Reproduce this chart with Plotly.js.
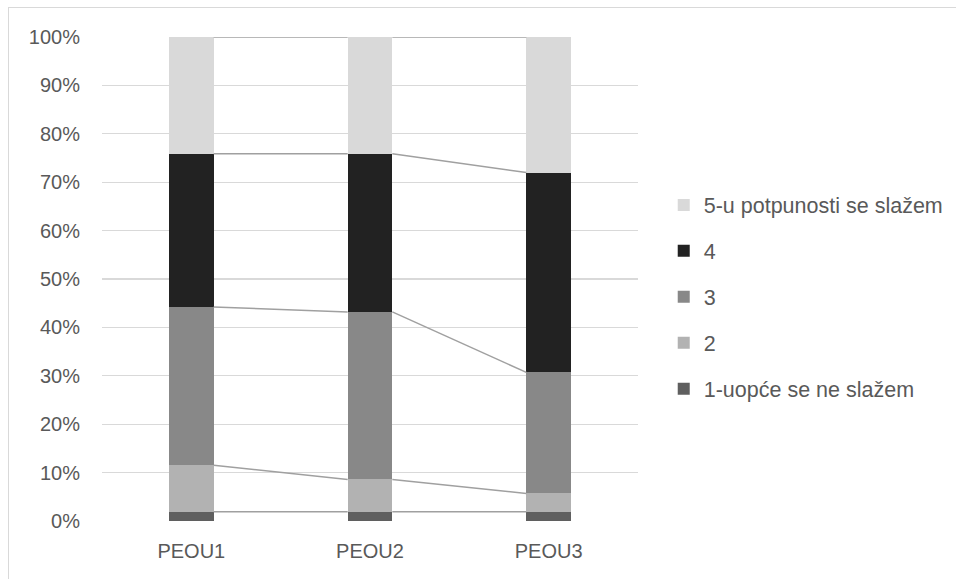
<!DOCTYPE html>
<html>
<head>
<meta charset="utf-8">
<script src="https://cdn.plot.ly/plotly-3.0.1.min.js"></script>
<style>
html,body{margin:0;padding:0;background:#fff;}
#wrap{position:relative;width:956px;height:579px;overflow:hidden;background:#fff;}
#frame{position:absolute;left:8px;top:7px;width:1000px;height:1000px;border-left:1.5px solid #d9d9d9;border-top:1.5px solid #d9d9d9;box-sizing:border-box;}
#chart{position:absolute;left:0;top:0;width:956px;height:579px;}
</style>
</head>
<body>
<div id="wrap"><div id="frame"></div><div id="chart"></div></div>
<script>
const categories = ["PEOU1", "PEOU2", "PEOU3"];
const seriesNames = ["1-uopće se ne slažem", "2", "3", "4", "5-u potpunosti se slažem"];
const s1 = [1.9, 1.9, 1.9];
const s2 = [9.6, 6.7, 3.8];
const s3 = [32.7, 34.6, 25.0];
const s4 = [31.7, 32.7, 41.3];
const s5 = [24.1, 24.1, 28.0];
const seriesValues = [s1, s2, s3, s4, s5];
const colors = ["#5f5f5f", "#b2b2b2", "#888888", "#222222", "#d9d9d9"];

const xs = categories.map((c, i) => i);
const barWidth = 0.25;
const traces = [];
seriesValues.forEach((vals, k) => {
  traces.push({
    type: "bar", x: xs, y: vals, name: seriesNames[k],
    marker: {color: colors[k], line: {width: 0}},
    width: barWidth, legendgroup: "g" + k, legendrank: 100 - k, hoverinfo: "skip"
  });
});
// series lines connecting the top of each segment between adjacent bars
const cum = [];
seriesValues.forEach((vals, k) => {
  cum.push(vals.map((v, i) => v + (k > 0 ? cum[k - 1][i] : 0)));
});
cum.forEach((c, k) => {
  const lx = [], ly = [];
  for (let i = 0; i < xs.length - 1; i++) {
    lx.push(xs[i] + barWidth / 2, xs[i + 1] - barWidth / 2, null);
    ly.push(c[i], c[i + 1], null);
  }
  traces.push({
    type: "scatter", mode: "lines", x: lx, y: ly, showlegend: false,
    legendgroup: "g" + k, legendrank: 100 - k, line: {color: "#a0a0a0", width: 1.5}, hoverinfo: "skip"
  });
});

const font = {family: "Liberation Sans, Arial, sans-serif", size: 20, color: "#595959"};
const legendFont = {family: "Liberation Sans, Arial, sans-serif", size: 21.5, color: "#595959"};
const layout = {
  width: 956, height: 579,
  margin: {l: 102, r: 318, t: 37, b: 58, autoexpand: false},
  paper_bgcolor: "rgba(0,0,0,0)", plot_bgcolor: "rgba(0,0,0,0)",
  barmode: "stack",
  font: font,
  showlegend: true,
  legend: {
    x: 1.048, xanchor: "left", y: 0.463, yanchor: "middle",
    traceorder: "grouped", tracegroupgap: 15,
    font: legendFont, bgcolor: "rgba(0,0,0,0)"
  },
  xaxis: {
    range: [-0.5, 2.5], tickvals: xs, ticktext: categories,
    showgrid: false, zeroline: false, showline: false, ticks: "",
    ticklabelstandoff: 16, fixedrange: true, automargin: false
  },
  yaxis: {
    range: [0, 100], dtick: 10, ticksuffix: "%",
    showgrid: true, gridcolor: "#d9d9d9", gridwidth: 1.3,
    zeroline: false, showline: false, ticks: "",
    ticklabelstandoff: 21, fixedrange: true, automargin: false
  }
};
Plotly.newPlot("chart", traces, layout, {displayModeBar: false, staticPlot: true});
</script>
</body>
</html>
